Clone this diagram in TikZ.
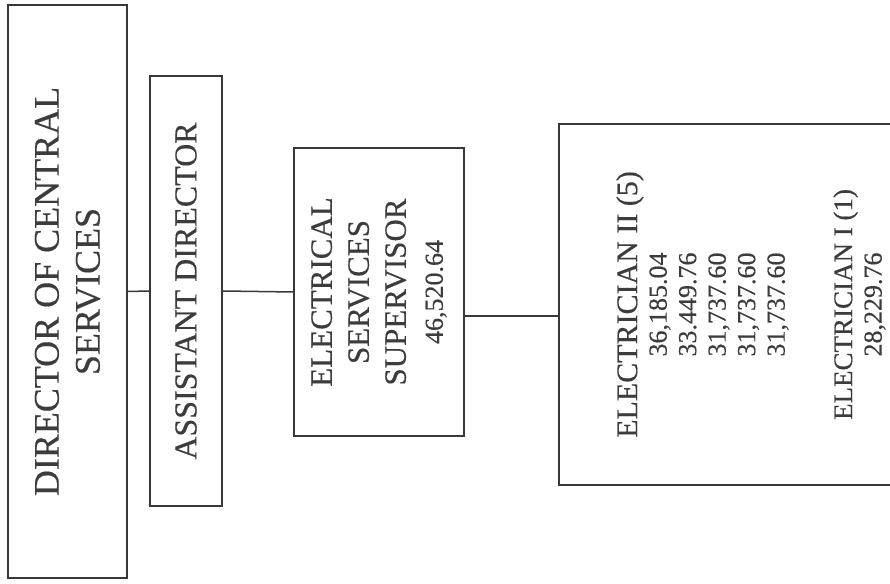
\documentclass[tikz,border=0pt]{standalone}
\usepackage{fontspec}
\setmainfont{Liberation Serif}[FakeBold=0.35]
\definecolor{ink}{HTML}{383838}
\definecolor{txt}{HTML}{3C3C3C}
\begin{document}
\begin{tikzpicture}[x=1pt,y=1pt,
  orgbox/.style={draw=ink, line width=1.8pt, rotate=90, align=center, inner sep=0pt, text=txt},
  conn/.style={draw=ink, line width=1.5pt}]
\clip (0,0) rectangle (890,583);
\fill[white] (0,0) rectangle (890,583);
% Director
\node[orgbox, minimum width=573pt, minimum height=119pt,
      font=\fontsize{36}{41}\selectfont] (dir) at (67.5,291.5)
  {DIRECTOR OF CENTRAL\\SERVICES};
% Assistant director
\node[orgbox, minimum width=430pt, minimum height=72pt,
      font=\fontsize{32}{38}\selectfont] (asst) at (186,292)
  {ASSISTANT DIRECTOR};
% Electrical services supervisor
\node[orgbox, minimum width=288pt, minimum height=170pt,
      font=\fontsize{31}{37}\selectfont] (ess) at (379,291)
  {ELECTRICAL\\SERVICES\\SUPERVISOR\\{\fontsize{26}{35}\selectfont 46,520.64}};
% Electricians
\node[orgbox, minimum width=361pt, minimum height=384pt,
      font=\fontsize{26}{29.5}\selectfont] (elec) at (751,278.5)
  {{\fontsize{30}{30}\selectfont ELECTRICIAN II (5)}\\
   36,185.04\\33.449.76\\31,737.60\\31,737.60\\31,737.60\\[38pt]
   {\fontsize{27}{30}\selectfont ELECTRICIAN I (1)}\\
   28,229.76};
% connectors
\coordinate (lvl) at (0,267);
\draw[conn] (dir.south) -- (asst.north);
\draw[conn] (asst.south) -- (ess.north);
\draw[conn] (ess.south |- lvl) -- (elec.north |- lvl);
\end{tikzpicture}
\end{document}
